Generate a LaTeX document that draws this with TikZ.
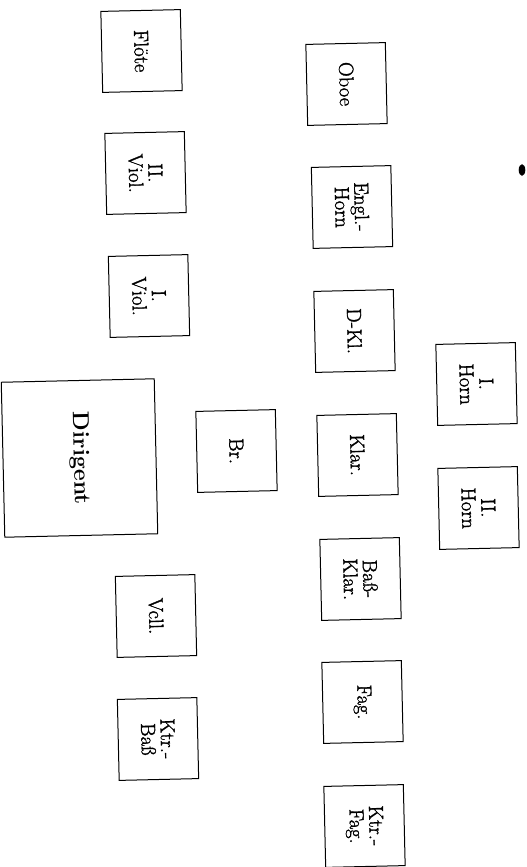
\documentclass[tikz,border=0pt]{standalone}
\usepackage{fontspec}
\newfontface\seatfont{Latin Modern Roman}[FakeBold=1.4]
\begin{document}
\begin{tikzpicture}[x=1pt,y=-1pt,
  seat/.style={draw, line width=1pt, rotate=-88.7, align=center,
    minimum width=81pt, minimum height=79.5pt, inner sep=0pt,
    font=\seatfont\fontsize{20.5}{19.5}\selectfont},
  chief/.style={seat, minimum width=155pt, minimum height=153pt,
    font=\bfseries\fontsize{23}{25}\selectfont}]
\useasboundingbox (0,0) rectangle (527,867);
\node[seat] (floete) at (141.5,51) {Flöte};
\node[seat] (viol2) at (145.5,173) {II.\\Viol.};
\node[seat] (viol1) at (149,296) {I.\\Viol.};
\node[chief] (dirigent) at (79.5,458) {Dirigent};
\node[seat] (br) at (236.5,451) {Br.};
\node[seat] (vcll) at (156,616) {Vcll.};
\node[seat] (ktrbass) at (158,739) {Ktr.-\\Baß};
\node[seat] (oboe) at (346.5,84) {Oboe};
\node[seat] (englhorn) at (352,207) {Engl.-\\Horn};
\node[seat] (dkl) at (354.5,331) {D-Kl.};
\node[seat] (klar) at (357.5,455) {Klar.};
\node[seat] (bassklar) at (360.5,579) {Baß-\\Klar.};
\node[seat] (fag) at (362.5,702) {Fag.};
\node[seat] (ktrfag) at (364.5,826) {Ktr.-\\Fag.};
\node[seat] (horn1) at (476.5,384) {I.\\Horn};
\node[seat] (horn2) at (478.5,508) {II.\\Horn};
\fill (522,170) ellipse (3.3 and 5.8);
\end{tikzpicture}
\end{document}
